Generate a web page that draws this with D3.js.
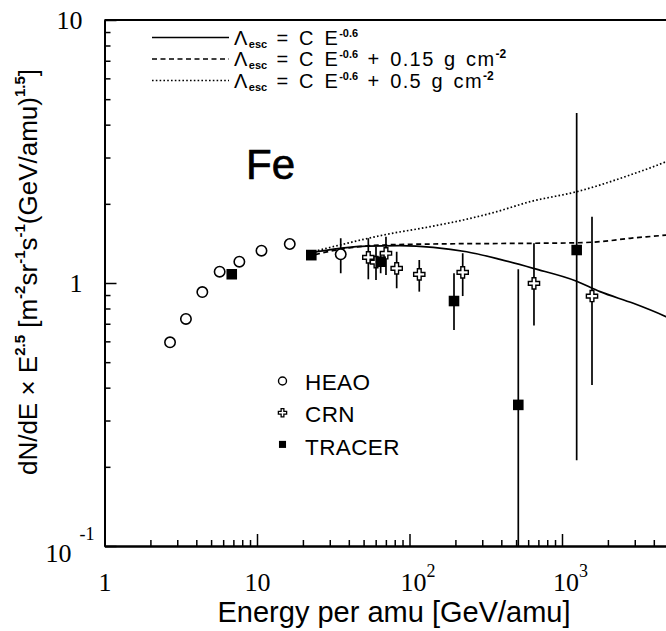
<!DOCTYPE html>
<html>
<head>
<meta charset="utf-8">
<script src="https://cdn.jsdelivr.net/npm/d3@7"></script>
<style>
  html, body { margin: 0; padding: 0; background: #fff; }
  svg { display: block; }
  text { fill: #000; }
</style>
</head>
<body>
<svg id="chart" width="666" height="631"></svg>
<script>
// ---- Fe flux x E^2.5 measurements ----
const heaoEnergy = [2.69, 3.42, 4.38, 5.69, 7.66, 10.7, 16.4, 35.4];
const heaoFlux   = [0.595, 0.730, 0.924, 1.104, 1.205, 1.327, 1.407, 1.286];
const heaoLow    = [0.595, 0.730, 0.924, 1.104, 1.205, 1.327, 1.407, 1.089];
const heaoHigh   = [0.595, 0.730, 0.924, 1.104, 1.205, 1.327, 1.407, 1.479];

const crnEnergy = [53.7, 60.3, 70.1, 82.4, 115.9, 223.3, 655, 1573];
const crnFlux   = [1.252, 1.200, 1.297, 1.137, 1.079, 1.098, 0.997, 0.892];
const crnLow    = [1.033, 1.026, 1.073, 0.955, 0.927, 0.892, 0.690, 0.409];
const crnHigh   = [1.479, 1.374, 1.500, 1.315, 1.223, 1.297, 1.416, 1.787];

const tracerEnergy = [6.83, 22.7, 64.7, 195.8, 516.9, 1248];
const tracerFlux   = [1.079, 1.276, 1.205, 0.854, 0.344, 1.335];
const tracerLow    = [1.079, 1.240, 1.089, 0.663, 0.100, 0.212];
const tracerHigh   = [1.079, 1.310, 1.315, 1.089, 1.127, 4.43];

// ---- propagation model curves ----
const modelAEnergy = [21.2, 35.0, 52.4, 86.6, 143.2, 237, 392, 648, 1235, 1775, 2935, 4808, 5200];
const modelAFlux   = [1.297, 1.355, 1.382, 1.386, 1.367, 1.315, 1.230, 1.137, 1.018, 0.927, 0.837, 0.745, 0.730];

const modelBEnergy = [21.2, 35.0, 67.3, 143.2, 648, 1248, 1775, 2792, 4808, 5200];
const modelBFlux   = [1.259, 1.343, 1.395, 1.407, 1.416, 1.422, 1.436, 1.479, 1.522, 1.530];

const modelCEnergy = [21.2, 35.0, 67.3, 136.3, 225.4, 373, 617, 1248, 2792, 4808, 5200];
const modelCFlux   = [1.297, 1.395, 1.522, 1.637, 1.736, 1.867, 2.038, 2.224, 2.574, 2.893, 2.95];

// ---- axis ticks ----
const xMajorTicks = [1, 10, 100, 1000];
const xTickBase   = ["1", "10", "10", "10"];
const xTickExp    = ["", "", "2", "3"];
const yMajorTicks = [0.1, 1, 10];
const yTickBase   = ["10", "1", "10"];
const yTickExp    = ["-1", "", ""];

const W = 666, H = 631;
const svg = d3.select("#chart");
svg.append("rect").attr("width", W).attr("height", H).attr("fill", "#fff");

const x = d3.scaleLog().domain([1, 1e4]).range([104.5, 714.5]);
const y = d3.scaleLog().domain([0.1, 10]).range([546, 20]);

const SANS = "'Liberation Sans', Arial, Helvetica, sans-serif";
const SERIF = "'Liberation Serif', 'Times New Roman', serif";

svg.append("defs").append("clipPath").attr("id", "plotClip")
  .append("rect").attr("x", x(1)).attr("y", y(10))
  .attr("width", x(1e4) - x(1)).attr("height", y(0.1) - y(10));

// minor ticks: 2..9 of each decade
function minors(lo, hi) {
  const out = [];
  for (let e = lo; e < hi; e++) for (let m = 2; m <= 9; m++) out.push(m * Math.pow(10, e));
  return out;
}

// ---- frame ----
svg.append("line").attr("x1", x(1)).attr("x2", x(1e4)).attr("y1", y(10)).attr("y2", y(10))
  .attr("stroke", "#000").attr("stroke-width", 2);

// X axis
const gxMinor = svg.append("g").attr("transform", `translate(0,${y(0.1)})`)
  .call(d3.axisBottom(x).tickValues(minors(0, 4)).tickSizeInner(-6).tickSizeOuter(0).tickFormat(""));
const gx = svg.append("g").attr("transform", `translate(0,${y(0.1)})`)
  .call(d3.axisBottom(x).tickValues(xMajorTicks).tickSizeInner(-12).tickSizeOuter(0).tickPadding(27)
    .tickFormat(() => ""));
[gxMinor, gx].forEach(g => {
  g.select(".domain").attr("stroke", "#000").attr("stroke-width", 2);
  g.selectAll(".tick line").attr("stroke", "#000").attr("stroke-width", 1.5);
});
gx.selectAll(".tick text").each(function(d, i) {
  const t = d3.select(this)
    .attr("font-family", SERIF).attr("font-size", 26).attr("fill", "#000")
    .attr("dx", xTickExp[i] ? 8 : 0);
  t.append("tspan").text(xTickBase[i]);
  if (xTickExp[i]) t.append("tspan").attr("dy", -14).attr("font-size", 18).text(xTickExp[i]);
});

// Y axis
const gyMinor = svg.append("g").attr("transform", `translate(${x(1)},0)`)
  .call(d3.axisLeft(y).tickValues(minors(-1, 1)).tickSizeInner(-6).tickSizeOuter(0).tickFormat(""));
const gy = svg.append("g").attr("transform", `translate(${x(1)},0)`)
  .call(d3.axisLeft(y).tickValues(yMajorTicks).tickSizeInner(-12).tickSizeOuter(0).tickPadding(22)
    .tickFormat(() => ""));
[gyMinor, gy].forEach(g => {
  g.select(".domain").attr("stroke", "#000").attr("stroke-width", 2);
  g.selectAll(".tick line").attr("stroke", "#000").attr("stroke-width", 1.5);
});
gy.selectAll(".tick text").each(function(d, i) {
  const t = d3.select(this)
    .attr("font-family", SERIF).attr("font-size", 26).attr("fill", "#000");
  if (yTickExp[i]) {
    t.attr("dx", 12).attr("dy", "0.6em");
    t.append("tspan").text(yTickBase[i]);
    t.append("tspan").attr("dy", -22).attr("dx", 8).attr("font-size", 18).text(yTickExp[i]);
  } else {
    t.append("tspan").text(yTickBase[i]);
  }
});

// ---- axis titles ----
svg.append("text").attr("x", 394).attr("y", 622)
  .attr("text-anchor", "middle").attr("font-family", SANS).attr("font-size", 29)
  .text("Energy per amu [GeV/amu]");

const yTitle = svg.append("text")
  .attr("transform", "translate(37,272) rotate(-90)")
  .attr("text-anchor", "middle").attr("font-family", SANS).attr("font-size", 26);
function addRun(t, s, kind) {
  const sp = t.append("tspan").text(s);
  if (kind === "sup") sp.attr("font-size", 15).attr("font-weight", "bold").attr("dy", -12);
  else if (kind === "back") sp.attr("dy", 12);
  return sp;
}
[["dN/dE × E", ""], ["2.5", "sup"], [" [m", "back"], ["-2", "sup"], ["sr", "back"], ["-1", "sup"],
 ["s", "back"], ["-1", "sup"], ["(GeV/amu)", "back"], ["1.5", "sup"], ["]", "back"]]
  .forEach(([s, k]) => addRun(yTitle, s, k));

// ---- plot contents ----
const plot = svg.append("g").attr("clip-path", "url(#plotClip)");

const line = d3.line().x(d => x(d[0])).y(d => y(d[1])).curve(d3.curveMonotoneX);
const models = [
  { e: modelAEnergy, v: modelAFlux, dash: null },
  { e: modelBEnergy, v: modelBFlux, dash: "5,3.5" },
  { e: modelCEnergy, v: modelCFlux, dash: "1.6,2.2" }
];
models.forEach(m => {
  plot.append("path")
    .attr("d", line(d3.zip(m.e, m.v)))
    .attr("fill", "none").attr("stroke", "#000").attr("stroke-width", 1.7)
    .attr("stroke-dasharray", m.dash);
});

// error bars
function errorBars(E, lo, hi) {
  plot.append("g").selectAll("line").data(d3.range(E.length)).join("line")
    .attr("x1", i => x(E[i])).attr("x2", i => x(E[i]))
    .attr("y1", i => y(Math.max(lo[i], 0.1))).attr("y2", i => y(hi[i]))
    .attr("stroke", "#000").attr("stroke-width", 1.7);
}
errorBars(heaoEnergy, heaoLow, heaoHigh);
errorBars(crnEnergy, crnLow, crnHigh);
errorBars(tracerEnergy, tracerLow, tracerHigh);

const crossSym = d3.symbol().type(d3.symbolCross).size(70);
const squareSym = d3.symbol().type(d3.symbolSquare).size(112);

plot.append("g").selectAll("circle").data(d3.zip(heaoEnergy, heaoFlux)).join("circle")
  .attr("cx", d => x(d[0])).attr("cy", d => y(d[1])).attr("r", 5.2)
  .attr("fill", "#fff").attr("stroke", "#000").attr("stroke-width", 1.6);

plot.append("g").selectAll("path").data(d3.zip(crnEnergy, crnFlux)).join("path")
  .attr("transform", d => `translate(${x(d[0])},${y(d[1])})`).attr("d", crossSym)
  .attr("fill", "#fff").attr("stroke", "#000").attr("stroke-width", 1.4);

plot.append("g").selectAll("path").data(d3.zip(tracerEnergy, tracerFlux)).join("path")
  .attr("transform", d => `translate(${x(d[0])},${y(d[1])})`).attr("d", squareSym)
  .attr("fill", "#000");

// ---- element label ----
svg.append("text").attr("x", 246).attr("y", 179)
  .attr("font-family", SANS).attr("font-size", 42)
  .attr("stroke", "#000").attr("stroke-width", 0.7).text("Fe");

// ---- experiment legend ----
const expNames = ["HEAO", "CRN", "TRACER"];
const leg = svg.append("g");
expNames.forEach((name, i) => {
  const cy = 381 + i * 32.7;
  if (i === 0) leg.append("circle").attr("cx", 282.5).attr("cy", cy).attr("r", 4)
    .attr("fill", "#fff").attr("stroke", "#000").attr("stroke-width", 1.4);
  if (i === 1) leg.append("path").attr("transform", `translate(282.5,${cy - 1})`)
    .attr("d", d3.symbol().type(d3.symbolCross).size(38)).attr("fill", "#fff")
    .attr("stroke", "#000").attr("stroke-width", 1.3);
  if (i === 2) leg.append("path").attr("transform", `translate(282.5,${cy - 2})`)
    .attr("d", d3.symbol().type(d3.symbolSquare).size(50)).attr("fill", "#000");
  leg.append("text").attr("x", 305).attr("y", cy + 8.5)
    .attr("font-family", SANS).attr("font-size", 22.5).attr("letter-spacing", 0.4).text(name);
});

// ---- model legend ----
const modelDash = [null, "5,3.5", "1.6,2.2"];
const modelTail = [[], [" + 0.15 g cm", "-2"], [" + 0.5 g cm", "-2"]];
const mleg = svg.append("g");
modelDash.forEach((dash, i) => {
  const cy = 37.5 + i * 21.5;
  mleg.append("line").attr("x1", 152).attr("x2", 229).attr("y1", cy).attr("y2", cy)
    .attr("stroke", "#000").attr("stroke-width", 1.5).attr("stroke-dasharray", dash);
  const t = mleg.append("text").attr("x", 234).attr("y", cy + 7)
    .attr("font-family", SANS).attr("font-size", 20)
    .attr("letter-spacing", 1.4).attr("word-spacing", 2.5);
  t.append("tspan").text("Λ");
  t.append("tspan").attr("font-size", 11).attr("font-weight", "bold").attr("letter-spacing", 0)
    .attr("dy", 3).text("esc");
  t.append("tspan").attr("dy", -3).text(" = C E");
  t.append("tspan").attr("font-size", 11).attr("font-weight", "bold").attr("letter-spacing", 0)
    .attr("dy", -8).text("-0.6");
  if (modelTail[i].length) {
    t.append("tspan").attr("dy", 8).text(modelTail[i][0]);
    t.append("tspan").attr("font-size", 12).attr("font-weight", "bold").attr("letter-spacing", 0)
      .attr("dy", -8).text(modelTail[i][1]);
  }
});
</script>
</body>
</html>
